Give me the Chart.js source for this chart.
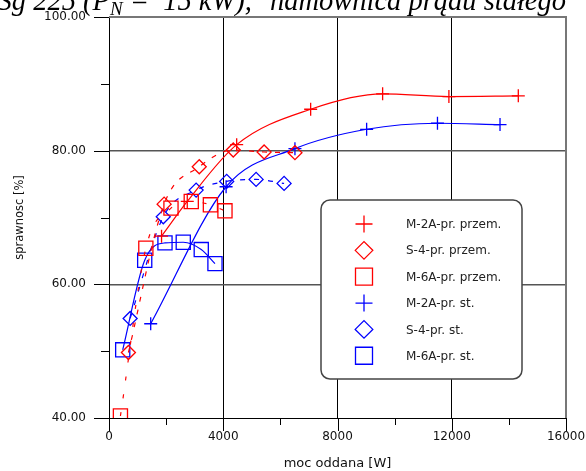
<!DOCTYPE html>
<html><head><meta charset="utf-8">
<script src="https://cdn.jsdelivr.net/npm/chart.js@4.4.0/dist/chart.umd.min.js"></script>
<style>html,body{margin:0;padding:0;background:#fff}#wrap{width:586px;height:471px;position:relative}</style>
</head><body><div id="wrap"><canvas id="c" width="586" height="471"></canvas></div>
<script>
// ---- data ----
const seriesLabels = ['M-2A-pr. przem.', 'S-4-pr. przem.', 'M-6A-pr. przem.', 'M-2A-pr. st.', 'S-4-pr. st.', 'M-6A-pr. st.'];

const m2aPrzemX = [1840, 2740, 4470, 7060, 9580, 11900, 14330];
const m2aPrzemY = [67.2, 72.4, 80.9, 86.2, 88.5, 88.1, 88.2];

const s4PrzemX = [680, 1930, 3160, 4350, 5430, 6510];
const s4PrzemY = [49.8, 72.0, 77.6, 80.1, 79.8, 79.7];

const m6aPrzemX = [400, 1290, 2170, 2880, 3550, 4060];
const m6aPrzemY = [40.3, 65.4, 71.4, 72.4, 71.9, 71.0];

const m2aStX = [1460, 4100, 6510, 9020, 11500, 13690];
const m2aStY = [54.1, 74.6, 80.3, 83.2, 84.1, 83.9];

const s4StX = [740, 1900, 3050, 4120, 5150, 6130];
const s4StY = [54.9, 70.1, 74.1, 75.4, 75.7, 75.1];

const m6aStX = [480, 1250, 1960, 2600, 3230, 3710];
const m6aStY = [50.2, 63.6, 66.2, 66.3, 65.2, 63.1];

const xTickValues = [0, 2000, 4000, 6000, 8000, 10000, 12000, 14000, 16000];
const xLabelValues = [0, 4000, 8000, 12000, 16000];
const yTickValues = [40, 50, 60, 70, 80, 90, 100];
const yLabelValues = [40, 60, 80, 100];
const xGridValues = [4000, 8000, 12000];
const yGridValues = [60, 80];

const xTitle = 'moc oddana [W]';
const yTitle = 'sprawnosc [%]';
const titleLeft = 'Sg 225 ';
const titleMain = '(P';
const titleSub = 'N';
const titleRest = ' =  15 kW),';
const titleRight = 'hamownica prądu stałego';

// ---- build ----
const RED = 'rgb(255,0,0)', BLUE = 'rgb(0,0,255)';
const pts = (xs, ys) => xs.map((x, i) => ({x: x, y: ys[i]}));
const styles = [
  {c: RED, ps: 'cross', r: 6.5, dash: []},
  {c: RED, ps: 'rectRot', r: 7, dash: [5, 8]},
  {c: RED, ps: 'rect', r: 10, dash: [4, 14]},
  {c: BLUE, ps: 'cross', r: 6.5, dash: []},
  {c: BLUE, ps: 'rectRot', r: 7, dash: [5, 9]},
  {c: BLUE, ps: 'rect', r: 10, dash: []}
];
const dataArr = [
  pts(m2aPrzemX, m2aPrzemY), pts(s4PrzemX, s4PrzemY), pts(m6aPrzemX, m6aPrzemY),
  pts(m2aStX, m2aStY), pts(s4StX, s4StY), pts(m6aStX, m6aStY)
];
const datasets = dataArr.map((d, i) => ({
  label: seriesLabels[i],
  data: d,
  showLine: true,
  borderColor: styles[i].c,
  backgroundColor: 'rgba(0,0,0,0)',
  borderWidth: 1.2,
  borderDash: styles[i].dash,
  cubicInterpolationMode: 'monotone',
  pointStyle: styles[i].ps,
  pointRadius: styles[i].r,
  pointBorderColor: styles[i].c,
  pointBackgroundColor: 'rgba(0,0,0,0)',
  pointBorderWidth: 1.3
}));

const FONT = 'DejaVu Sans';

const decorPlugin = {
  id: 'decor',
  beforeDatasetsDraw(chart) {
    const {ctx, chartArea: a, scales: {x, y}} = chart;
    ctx.save();
    ctx.strokeStyle = '#777';
    ctx.lineWidth = 2;
    ctx.beginPath();
    ctx.moveTo(a.left, a.top); ctx.lineTo(a.right, a.top); ctx.lineTo(a.right, a.bottom);
    ctx.stroke();
    ctx.strokeStyle = '#000';
    ctx.lineWidth = 1;
    xTickValues.forEach(v => {
      const px = Math.round(x.getPixelForValue(v)) + 0.5;
      const len = xLabelValues.includes(v) ? 13 : 7;
      ctx.beginPath(); ctx.moveTo(px, a.bottom); ctx.lineTo(px, a.bottom + len); ctx.stroke();
    });
    yTickValues.forEach(v => {
      const py = Math.round(y.getPixelForValue(v)) + 0.5;
      const len = yLabelValues.includes(v) ? 15 : 8;
      ctx.beginPath(); ctx.moveTo(a.left, py); ctx.lineTo(a.left - len, py); ctx.stroke();
    });
    ctx.restore();
  },
  afterDraw(chart) {
    const {ctx} = chart;
    ctx.save();
    const bx = 321, by = 200, bw = 201, bh = 179, rr = 9;
    ctx.fillStyle = '#fff';
    ctx.strokeStyle = '#444';
    ctx.lineWidth = 1.5;
    ctx.beginPath();
    ctx.roundRect(bx, by, bw, bh, rr);
    ctx.fill(); ctx.stroke();
    chart.data.datasets.forEach((ds, i) => {
      const cx = 364, cy = 224 + i * 26.35;
      ctx.strokeStyle = ds.borderColor;
      ctx.lineWidth = 1.3;
      ctx.setLineDash([]);
      ctx.beginPath();
      if (ds.pointStyle === 'cross') {
        ctx.moveTo(cx - 8.5, cy); ctx.lineTo(cx + 8.5, cy);
        ctx.moveTo(cx, cy - 8.5); ctx.lineTo(cx, cy + 8.5);
      } else if (ds.pointStyle === 'rectRot') {
        ctx.moveTo(cx - 8.8, cy); ctx.lineTo(cx, cy - 8.8); ctx.lineTo(cx + 8.8, cy); ctx.lineTo(cx, cy + 8.8); ctx.closePath();
      } else {
        ctx.rect(cx - 8.5, cy - 8.5, 17, 17);
      }
      ctx.stroke();
      ctx.fillStyle = '#222';
      ctx.font = '12px "' + FONT + '"';
      ctx.textAlign = 'left';
      ctx.textBaseline = 'middle';
      ctx.fillText(ds.label, 406, cy + 1);
    });
    // cut-off title at the top
    ctx.fillStyle = '#000';
    ctx.textBaseline = 'alphabetic';
    ctx.textAlign = 'left';
    const big = 'italic 28.5px "Liberation Serif"', small = 'italic 19px "Liberation Serif"';
    const base = 9.5;
    ctx.font = big;
    const wl = ctx.measureText(titleLeft).width;
    let tx = 83;
    ctx.fillText(titleLeft, tx - wl, base);
    ctx.fillText(titleMain, tx, base); tx += ctx.measureText(titleMain).width;
    ctx.font = small; ctx.fillText(titleSub, tx, base + 5); tx += ctx.measureText(titleSub).width;
    ctx.font = big; ctx.fillText(titleRest, tx, base);
    ctx.textAlign = 'right';
    ctx.fillText(titleRight, 566, base);
    ctx.restore();
  }
};

new Chart(document.getElementById('c'), {
  type: 'scatter',
  data: {datasets: datasets},
  options: {
    responsive: false,
    animation: false,
    devicePixelRatio: 1,
    events: [],
    layout: {padding: {left: 0, top: 17, right: 20, bottom: 0}},
    plugins: {legend: {display: false}, tooltip: {enabled: false}, title: {display: false}},
    scales: {
      x: {
        type: 'linear', min: 0, max: 16000,
        afterBuildTicks: s => { s.ticks = xTickValues.map(v => ({value: v})); },
        afterFit: s => { s.height = 53; },
        ticks: {
          autoSkip: false, maxRotation: 0, padding: 0, color: '#111',
          font: {family: FONT, size: 12},
          callback: v => xLabelValues.includes(v) ? String(v) : ''
        },
        grid: {
          drawTicks: true, tickLength: 12, tickColor: 'rgba(0,0,0,0)', lineWidth: 1,
          color: c => (c.tick && xGridValues.includes(c.tick.value)) ? '#000' : 'rgba(0,0,0,0)'
        },
        border: {display: true, color: '#000', width: 1},
        title: {display: true, text: xTitle, color: '#111', font: {family: FONT, size: 13}, padding: {top: 0, bottom: 0}}
      },
      y: {
        type: 'linear', min: 40, max: 100,
        afterBuildTicks: s => { s.ticks = yTickValues.map(v => ({value: v})); },
        afterFit: s => { s.width = 109; },
        ticks: {
          autoSkip: false, padding: 0, color: '#111',
          font: {family: FONT, size: 12},
          callback: v => yLabelValues.includes(v) ? v.toFixed(2) : ''
        },
        grid: {
          drawTicks: true, tickLength: 23, tickColor: 'rgba(0,0,0,0)', lineWidth: 1.5,
          color: c => (c.tick && yGridValues.includes(c.tick.value)) ? '#555' : 'rgba(0,0,0,0)'
        },
        border: {display: true, color: '#000', width: 1},
        title: {display: true, text: yTitle, color: '#111', font: {family: FONT, size: 11.5}, padding: {top: 13, bottom: 0}}
      }
    }
  },
  plugins: [decorPlugin]
});
</script>
</body></html>
